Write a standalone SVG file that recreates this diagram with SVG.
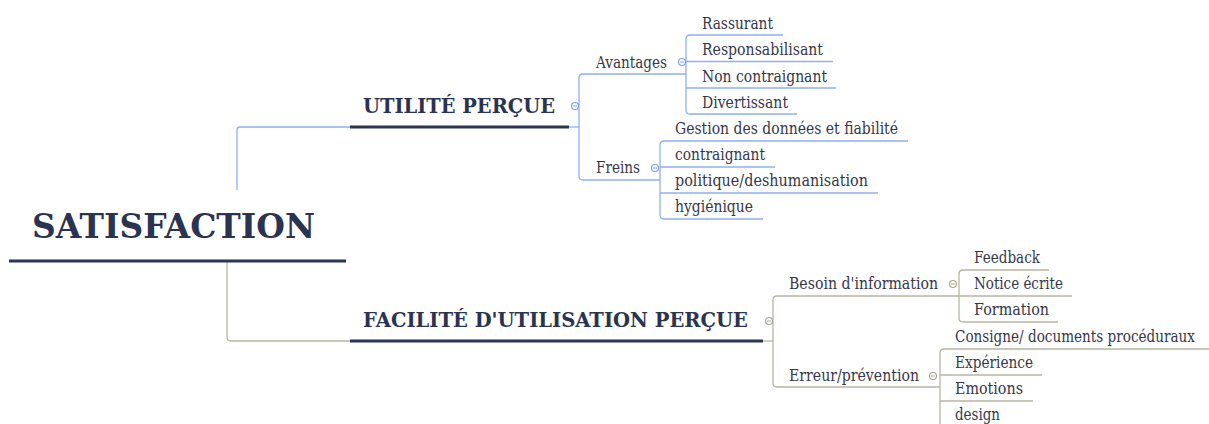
<svg xmlns="http://www.w3.org/2000/svg" width="1209" height="424" viewBox="0 0 1209 424">
<defs>
<style>
.bl{fill:none;stroke:#8fb0f2;stroke-width:1.3}
.ol{fill:none;stroke:#b8b6a0;stroke-width:1.3}
.ul{fill:none;stroke:#2b3550;stroke-width:3.2}
.h{font-family:"DejaVu Serif","Liberation Serif",serif;font-weight:bold;fill:#2a3350}
.t{font-family:"DejaVu Serif","Liberation Serif",serif;font-size:16px;fill:#36374a}
.cb{fill:#fff;stroke:#7fa3ee;stroke-width:1.2}
.co{fill:#fff;stroke:#a9a790;stroke-width:1.2}
.mb{stroke:#7fa3ee;stroke-width:1}
.mo{stroke:#a9a790;stroke-width:1}
</style>
</defs>
<rect width="1209" height="424" fill="#fff"/>
<g id="connectors">
<path class="bl" d="M237,190 V130 Q237,127 240,127 H350"/>
<path class="bl" d="M569,127 H579"/>
<path class="bl" d="M686,74 H583 Q579,74 579,78 V176 Q579,180 583,180 H660"/>
<path class="bl" d="M783,35 H690 Q686,35 686,39 V110 Q686,114 690,114 H797"/>
<path class="bl" d="M686,61.5 H833 M686,88 H836"/>
<path class="bl" d="M908,141 H664 Q660,141 660,145 V215 Q660,219 664,219 H763"/>
<path class="bl" d="M660,167 H775 M660,193 H878"/>
<path class="ol" d="M227,261 V337 Q227,341 231,341 H350"/>
<path class="ol" d="M763,341 H773"/>
<path class="ol" d="M959,296 H777 Q773,296 773,300 V383 Q773,387 777,387 H940"/>
<path class="ol" d="M1049,270 H963 Q959,270 959,274 V318 Q959,322 963,322 H1058"/>
<path class="ol" d="M959,296 H1072"/>
<path class="ol" d="M1209,349 H944 Q940,349 940,353 V430"/>
<path class="ol" d="M940,375 H1042 M940,401 H1033"/>
</g>
<g id="satisfaction">
<text class="h" x="32" y="238" font-size="34" textLength="283" lengthAdjust="spacingAndGlyphs">SATISFACTION</text>
<path class="ul" d="M9,261 H346"/>
</g>
<g id="utilite">
<text class="h" x="363" y="113" font-size="20.5" textLength="192" lengthAdjust="spacingAndGlyphs">UTILITÉ PERÇUE</text>
<path class="ul" d="M350,127 H569"/>
<circle class="cb" cx="575" cy="106" r="3.5"/><path class="mb" d="M573,106 H577"/>
</g>
<g id="avantages">
<text class="t" x="596" y="68" textLength="71" lengthAdjust="spacingAndGlyphs">Avantages</text>
<circle class="cb" cx="682" cy="62" r="3.5"/><path class="mb" d="M680,62 H684"/>
</g>
<g id="rassurant"><text class="t" x="702" y="29" textLength="71" lengthAdjust="spacingAndGlyphs">Rassurant</text></g>
<g id="responsabilisant"><text class="t" x="702" y="55" textLength="121" lengthAdjust="spacingAndGlyphs">Responsabilisant</text></g>
<g id="noncontraignant"><text class="t" x="702" y="82" textLength="125" lengthAdjust="spacingAndGlyphs">Non contraignant</text></g>
<g id="divertissant"><text class="t" x="702" y="108" textLength="86" lengthAdjust="spacingAndGlyphs">Divertissant</text></g>
<g id="freins">
<text class="t" x="596" y="173" textLength="44" lengthAdjust="spacingAndGlyphs">Freins</text>
<circle class="cb" cx="655" cy="168" r="3.5"/><path class="mb" d="M653,168 H657"/>
</g>
<g id="gestion"><text class="t" x="675" y="134" textLength="223" lengthAdjust="spacingAndGlyphs">Gestion des données et fiabilité</text></g>
<g id="contraignant"><text class="t" x="675" y="160" textLength="90" lengthAdjust="spacingAndGlyphs">contraignant</text></g>
<g id="politique"><text class="t" x="675" y="186" textLength="193" lengthAdjust="spacingAndGlyphs">politique/deshumanisation</text></g>
<g id="hygienique"><text class="t" x="675" y="212" textLength="78" lengthAdjust="spacingAndGlyphs">hygiénique</text></g>
<g id="facilite">
<text class="h" x="363" y="327" font-size="20.5" textLength="385" lengthAdjust="spacingAndGlyphs">FACILITÉ D'UTILISATION PERÇUE</text>
<path class="ul" d="M350,341 H763"/>
<circle class="co" cx="769" cy="321" r="3.5"/><path class="mo" d="M767,321 H771"/>
</g>
<g id="besoin">
<text class="t" x="789" y="289" textLength="149" lengthAdjust="spacingAndGlyphs">Besoin d'information</text>
<circle class="co" cx="953" cy="284" r="3.5"/><path class="mo" d="M951,284 H955"/>
</g>
<g id="feedback"><text class="t" x="974" y="263" textLength="66" lengthAdjust="spacingAndGlyphs">Feedback</text></g>
<g id="notice"><text class="t" x="974" y="289" textLength="89" lengthAdjust="spacingAndGlyphs">Notice écrite</text></g>
<g id="formation"><text class="t" x="974" y="315" textLength="75" lengthAdjust="spacingAndGlyphs">Formation</text></g>
<g id="erreur">
<text class="t" x="789" y="381" textLength="130" lengthAdjust="spacingAndGlyphs">Erreur/prévention</text>
<circle class="co" cx="933" cy="376" r="3.5"/><path class="mo" d="M931,376 H935"/>
</g>
<g id="consigne"><text class="t" x="955" y="342" textLength="240" lengthAdjust="spacingAndGlyphs">Consigne/ documents procéduraux</text></g>
<g id="experience"><text class="t" x="955" y="368" textLength="78" lengthAdjust="spacingAndGlyphs">Expérience</text></g>
<g id="emotions"><text class="t" x="955" y="394" textLength="68" lengthAdjust="spacingAndGlyphs">Emotions</text></g>
<g id="design"><text class="t" x="955" y="420" textLength="45" lengthAdjust="spacingAndGlyphs">design</text></g>
</svg>
